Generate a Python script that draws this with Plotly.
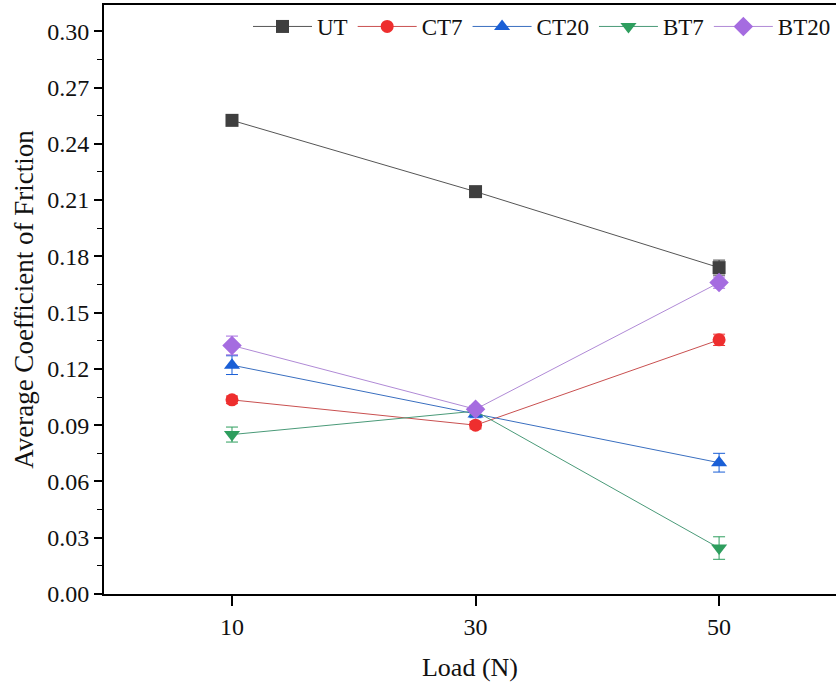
import plotly.graph_objects as go

loads = [10, 30, 50]
series_names = ["UT", "CT7", "CT20", "BT7", "BT20"]
ut = [0.2525, 0.2145, 0.1740]
ct7 = [0.1035, 0.0900, 0.1355]
ct20 = [0.1220, 0.0960, 0.0700]
bt7 = [0.0850, 0.0975, 0.0245]
bt20 = [0.1325, 0.0985, 0.1660]
ut_err = [0.002, 0.002, 0.004]
ct7_err = [0.002, 0.002, 0.003]
ct20_err = [0.005, 0.002, 0.005]
bt7_err = [0.004, 0.002, 0.006]
bt20_err = [0.005, 0.002, 0.003]
y_ticks = [0.00, 0.03, 0.06, 0.09, 0.12, 0.15, 0.18, 0.21, 0.24, 0.27, 0.30]

values = [ut, ct7, ct20, bt7, bt20]
errors = [ut_err, ct7_err, ct20_err, bt7_err, bt20_err]
colors = ["#3f3f3f", "#ee2e2e", "#1a5fd6", "#2e9e5e", "#a56ce0"]
line_colors = ["#555555", "#c95050", "#3a6fc0", "#4a9a78", "#b08ad6"]
symbols = ["square", "circle", "triangle-up", "triangle-down", "diamond"]
sizes = [13, 13, 14, 14, 15]

FONT = "'Liberation Serif', 'Times New Roman', serif"

fig = go.Figure()
for name, v, e, c, lc, s, sz in zip(series_names, values, errors, colors, line_colors, symbols, sizes):
    fig.add_trace(go.Scatter(
        x=loads, y=v, name=name, mode="lines+markers",
        line=dict(color=lc, width=1),
        marker=dict(symbol=s, size=sz, color=c, line=dict(width=0)),
        error_y=dict(type="data", array=e, visible=True, color=c, thickness=1, width=6),
    ))

fig.update_layout(
    width=836, height=684,
    margin=dict(l=104, r=0, t=5, b=90),
    paper_bgcolor="white", plot_bgcolor="white",
    font=dict(family=FONT, size=24, color="#111111"),
    showlegend=True,
    legend=dict(orientation="h", x=1.0, xanchor="right", y=1.0, yanchor="top",
                bgcolor="rgba(0,0,0,0)", font=dict(size=23, family=FONT),
                itemwidth=59, tracegroupgap=0),
    xaxis=dict(
        range=[-0.51, 59.6], tickvals=loads, ticktext=[str(l) for l in loads],
        showgrid=False, zeroline=False, showline=True, linecolor="black", linewidth=2,
        mirror=True, ticks="outside", ticklen=10, tickwidth=1.5, tickcolor="black",
        title=dict(text="Load (N)", font=dict(size=26, family=FONT), standoff=19),
        tickfont=dict(size=24, family=FONT),
    ),
    yaxis=dict(
        range=[0, 0.314], tickvals=y_ticks, ticktext=["%.2f" % t for t in y_ticks],
        showgrid=False, zeroline=False, showline=True, linecolor="black", linewidth=2,
        ticks="outside", ticklen=8, tickwidth=1.5, tickcolor="black",
        minor=dict(ticks="outside", ticklen=5, tickwidth=1.2, tickcolor="black", dtick=0.015, tick0=0),
        title=dict(text="Average Coefficient of Friction", font=dict(size=27, family=FONT), standoff=6),
        tickfont=dict(size=24, family=FONT),
    ),
)

fig.write_html("out.html")
